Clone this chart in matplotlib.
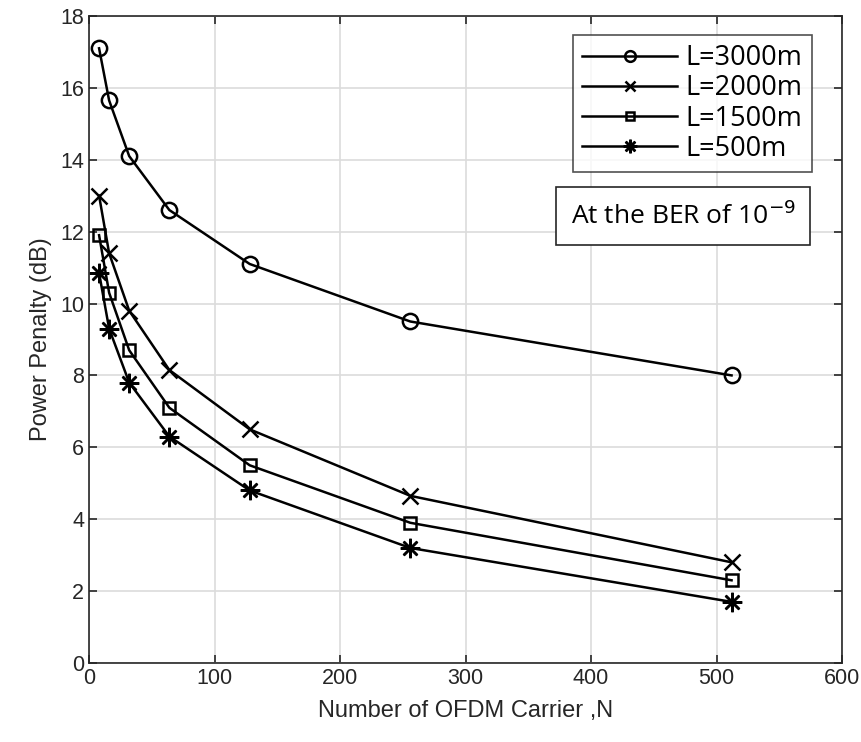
import numpy as np
import matplotlib
matplotlib.use("Agg")
import matplotlib.pyplot as plt

# number of OFDM carriers
N = [8, 16, 32, 64, 128, 256, 512]

# power penalty (dB) per fibre length
pp_3000 = [17.1, 15.65, 14.1, 12.6, 11.1, 9.5, 8.0]
pp_2000 = [13.0, 11.4, 9.8, 8.15, 6.5, 4.65, 2.8]
pp_1500 = [11.9, 10.3, 8.7, 7.1, 5.5, 3.9, 2.3]
pp_500 = [10.85, 9.3, 7.8, 6.3, 4.8, 3.2, 1.7]

labels = ["L=3000m", "L=2000m", "L=1500m", "L=500m"]
markers = ["o", "x", "s", (8, 2, 0)]

fig = plt.figure(figsize=(8.62, 7.42), dpi=100)
ax = fig.add_axes([0.1033, 0.1065, 0.8735, 0.872])

series = [pp_3000, pp_2000, pp_1500, pp_500]
msize = [11, 11, 8, 14]
for y, lab, m, ms in zip(series, labels, markers, msize):
    ax.plot(N, y, color="black", lw=1.8, marker=m, ms=ms, mfc="none",
            mew=1.8, label=lab)

ax.set_xlim(0, 600)
ax.set_ylim(0, 18)
ax.set_xticks(np.arange(0, 601, 100))
ax.set_yticks(np.arange(0, 19, 2))
ax.grid(True, color="#dcdcdc", lw=1.2)
ax.set_axisbelow(True)
ax.tick_params(direction="in", top=True, right=True, length=6, width=1.2,
               labelsize=15.5, colors="#262626")
for lab in ax.get_xticklabels() + ax.get_yticklabels():
    lab.set_fontfamily("Liberation Sans")
for s in ax.spines.values():
    s.set_color("#262626")
    s.set_linewidth(1.2)

ax.set_xlabel("Number of OFDM Carrier ,N", fontsize=17, family="Liberation Sans",
              color="#262626", labelpad=8)
ax.set_ylabel("Power Penalty (dB)", fontsize=17, family="Liberation Sans",
              color="#262626", labelpad=6)

leg = ax.legend(loc="upper right", bbox_to_anchor=(0.96, 0.971), borderaxespad=0,
                prop={"family": "Open Sans", "size": 19.5}, frameon=True,
                fancybox=False, edgecolor="#262626", handlelength=3.5,
                borderpad=0.35, labelspacing=0.08, handletextpad=0.3,
                markerscale=0.7)
leg.get_frame().set_linewidth(1.2)

ax.text(0.64, 0.691, "At the BER of 10$^{-9}$", transform=ax.transAxes,
        fontsize=19, family="Open Sans", va="center", ha="left",
        bbox=dict(boxstyle="square,pad=0.55", fc="white", ec="#262626", lw=1.2))

fig.savefig("out.png", dpi=100)
